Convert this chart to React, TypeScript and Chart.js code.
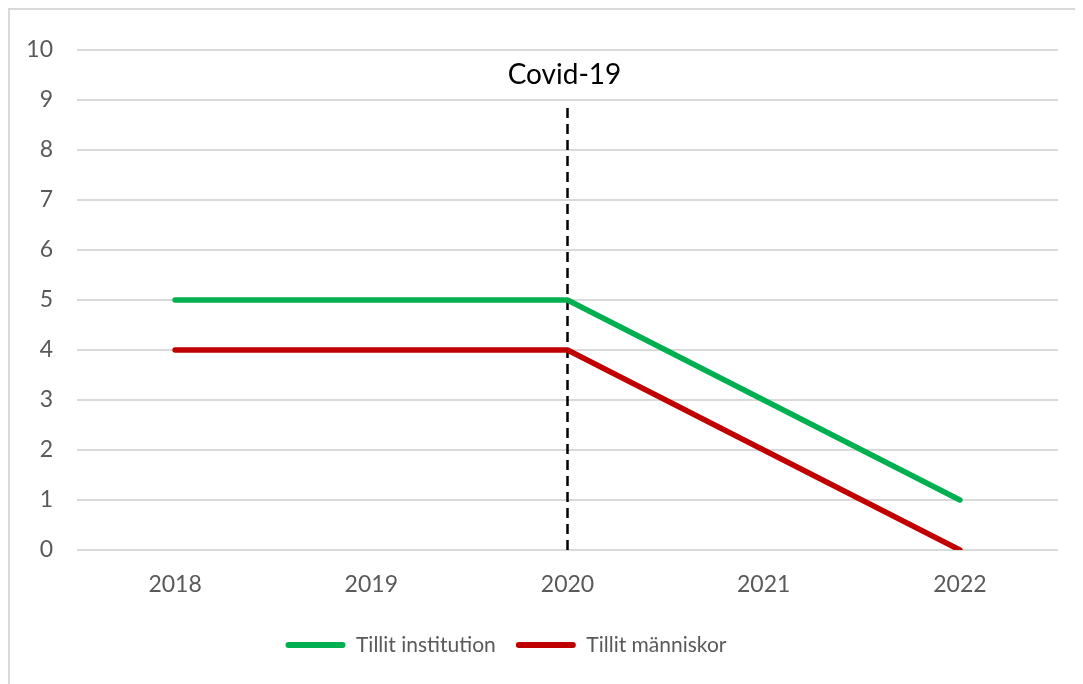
import React, { useEffect, useRef } from "react";
import { Chart, registerables } from "chart.js";

Chart.register(...registerables);

const years = ["2018", "2019", "2020", "2021", "2022"];
const tillitInstitution = [5, 5, 5, 3, 1];
const tillitManniskor = [4, 4, 4, 2, 0];
const seriesNames = ["Tillit institution", "Tillit människor"];
const covidLabel = "Covid-19";
const covidYear = "2020";
const covidLineFrom = 0;
const covidLineTo = 8.9;
const covidLabelAt = 9.5;
const yMin = 0;
const yMax = 10;

const FONT = "Lato, 'Open Sans', sans-serif";
const GREEN = "#00B050";
const RED = "#C00000";
const TEXT = "#595959";
const GRID = "#D9D9D9";

const covidPlugin = {
  id: "covid",
  beforeDatasetsDraw(chart: any) {
    const { ctx, scales } = chart;
    const x = scales.x.getPixelForValue(years.indexOf(covidYear));
    const y0 = scales.y.getPixelForValue(covidLineFrom);
    const y1 = scales.y.getPixelForValue(covidLineTo);
    ctx.save();
    ctx.strokeStyle = "#000000";
    ctx.lineWidth = 2.5;
    ctx.setLineDash([10, 6]);
    ctx.beginPath();
    ctx.moveTo(x, y0);
    ctx.lineTo(x, y1);
    ctx.stroke();
    ctx.restore();
  },
  afterDatasetsDraw(chart: any) {
    const { ctx, scales } = chart;
    const x = scales.x.getPixelForValue(years.indexOf(covidYear));
    const y = scales.y.getPixelForValue(covidLabelAt);
    ctx.save();
    ctx.fillStyle = "#000000";
    ctx.font = `28px ${FONT}`;
    ctx.textAlign = "center";
    ctx.textBaseline = "middle";
    ctx.fillText(covidLabel, x - 3, y);
    ctx.restore();
  },
};

export default function App() {
  const ref = useRef<HTMLCanvasElement>(null);
  useEffect(() => {
    if (!ref.current) return;
    const chart = new Chart(ref.current, {
      type: "line",
      data: {
        labels: years,
        datasets: [
          {
            label: seriesNames[0],
            data: tillitInstitution,
            borderColor: GREEN,
            backgroundColor: GREEN,
            borderWidth: 5.5,
            borderCapStyle: "round",
            borderJoinStyle: "round",
            pointRadius: 0,
            tension: 0,
          },
          {
            label: seriesNames[1],
            data: tillitManniskor,
            borderColor: RED,
            backgroundColor: RED,
            borderWidth: 5.5,
            borderCapStyle: "round",
            borderJoinStyle: "round",
            pointRadius: 0,
            tension: 0,
          },
        ],
      },
      options: {
        animation: false,
        responsive: false,
        maintainAspectRatio: false,
        layout: { padding: { top: 42, right: 25, left: -54, bottom: 18.5 } },
        plugins: {
          tooltip: { enabled: false },
          legend: {
            position: "bottom",
            labels: {
              boxWidth: 60,
              boxHeight: 6,
              padding: 20,
              color: TEXT,
              font: { family: FONT, size: 21 },
              generateLabels: (c: any) =>
                c.data.datasets.map((d: any, i: number) => ({
                  text: d.label,
                  fillStyle: d.borderColor,
                  strokeStyle: d.borderColor,
                  lineWidth: 0,
                  borderRadius: 3,
                  hidden: false,
                  datasetIndex: i,
                  fontColor: TEXT,
                })),
            },
          },
        },
        scales: {
          x: {
            offset: true,
            grid: { display: false, drawTicks: false },
            border: { display: false },
            ticks: { color: TEXT, font: { family: FONT, size: 23 }, padding: 21 },
            afterFit: (s: any) => {
              s.height = 64.5;
            },
          },
          y: {
            min: yMin,
            max: yMax,
            ticks: { stepSize: 1, color: TEXT, font: { family: FONT, size: 23 }, padding: 24 },
            grid: { color: GRID, lineWidth: 2, drawTicks: false },
            border: { display: false },
            afterFit: (s: any) => {
              s.width = 123;
            },
          },
        },
      },
      plugins: [covidPlugin],
    } as any);
    return () => chart.destroy();
  }, []);
  return (
    <div
      style={{
        position: "relative",
        width: 1075,
        height: 676,
        boxSizing: "border-box",
        borderLeft: "2px solid #D9D9D9",
        borderTop: "2px solid #D9D9D9",
      }}
    >
      <canvas
        ref={ref}
        width={1075}
        height={676}
        style={{ position: "absolute", left: -2, top: -2, width: 1075, height: 676 }}
      />
    </div>
  );
}
